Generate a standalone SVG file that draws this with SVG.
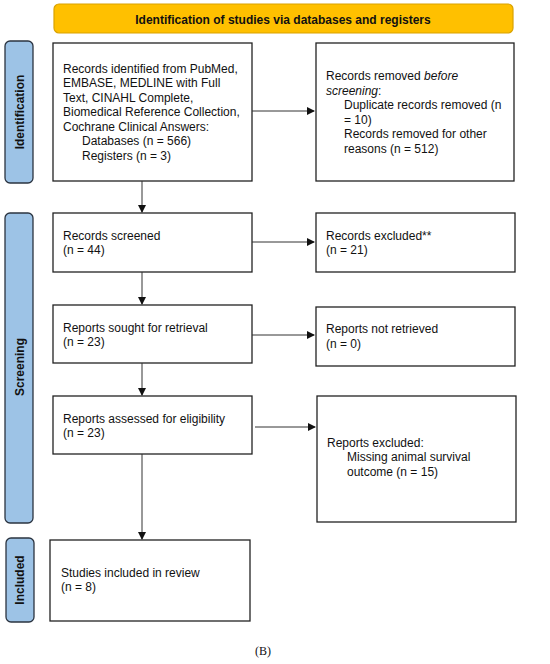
<svg xmlns="http://www.w3.org/2000/svg" width="550" height="664" viewBox="0 0 550 664">
<style>
.box{fill:#fff;stroke:#222;stroke-width:1.3}
.side{fill:#9DC3E6;stroke:#2b3440;stroke-width:1.3}
.hdr{fill:#FFC000;stroke:#D9A200;stroke-width:1.2}
.t{font-family:"Liberation Sans",Arial,sans-serif;font-size:12px;fill:#111}
.b{font-family:"Liberation Sans",Arial,sans-serif;font-size:12px;font-weight:bold;fill:#111}
.ln{stroke:#333;stroke-width:1;fill:none}
</style>
<defs>
<marker id="ah" markerWidth="8" markerHeight="8" refX="7" refY="4" orient="auto" markerUnits="userSpaceOnUse">
<path d="M0,0 L8,4 L0,8 Z" fill="#111"/>
</marker>
</defs>
<rect width="550" height="664" fill="#fff"/>
<g id="header">
<rect class="hdr" x="54" y="4" width="459" height="29" rx="5"/>
<text class="b" x="283" y="23.5" text-anchor="middle">Identification of studies via databases and registers</text>
</g>
<g id="lbl-identification">
<rect class="side" x="5" y="41" width="28" height="142" rx="5"/>
<text class="b" transform="translate(23.5,112) rotate(-90)" text-anchor="middle">Identification</text>
</g>
<g id="lbl-screening">
<rect class="side" x="5" y="213" width="28" height="310" rx="5"/>
<text class="b" transform="translate(23.5,367) rotate(-90)" text-anchor="middle">Screening</text>
</g>
<g id="lbl-included">
<rect class="side" x="6" y="538" width="28" height="84" rx="5"/>
<text class="b" transform="translate(24,580) rotate(-90)" text-anchor="middle">Included</text>
</g>
<g id="identified">
<rect class="box" x="53" y="43" width="199" height="138"/>
<text class="t" x="63" y="72.5">Records identified from PubMed,</text>
<text class="t" x="63" y="87">EMBASE, MEDLINE with Full</text>
<text class="t" x="63" y="101.5">Text, CINAHL Complete,</text>
<text class="t" x="63" y="116">Biomedical Reference Collection,</text>
<text class="t" x="63" y="130.5">Cochrane Clinical Answers:</text>
<text class="t" x="82" y="145">Databases (n = 566)</text>
<text class="t" x="82" y="159.5">Registers (n = 3)</text>
</g>
<g id="removed">
<rect class="box" x="316" y="43" width="198" height="138"/>
<text class="t" x="326" y="80">Records removed <tspan font-style="italic">before</tspan></text>
<text class="t" x="326" y="94.5"><tspan font-style="italic">screening</tspan>:</text>
<text class="t" x="344" y="109">Duplicate records removed (n</text>
<text class="t" x="344" y="123.5">= 10)</text>
<text class="t" x="344" y="138">Records removed for other</text>
<text class="t" x="344" y="152.5">reasons (n = 512)</text>
</g>
<g id="screened">
<rect class="box" x="53" y="213" width="199" height="59"/>
<text class="t" x="63" y="239.5">Records screened</text>
<text class="t" x="63" y="254">(n = 44)</text>
</g>
<g id="excluded1">
<rect class="box" x="316" y="213" width="199" height="59"/>
<text class="t" x="326" y="239.5">Records excluded**</text>
<text class="t" x="326" y="254">(n = 21)</text>
</g>
<g id="sought">
<rect class="box" x="53" y="305" width="199" height="58"/>
<text class="t" x="63" y="331.5">Reports sought for retrieval</text>
<text class="t" x="63" y="346">(n = 23)</text>
</g>
<g id="notretrieved">
<rect class="box" x="316" y="307" width="199" height="59"/>
<text class="t" x="326" y="333">Reports not retrieved</text>
<text class="t" x="326" y="347.5">(n = 0)</text>
</g>
<g id="assessed">
<rect class="box" x="53" y="396" width="199" height="58"/>
<text class="t" x="63" y="422.5">Reports assessed for eligibility</text>
<text class="t" x="63" y="437">(n = 23)</text>
</g>
<g id="excluded2">
<rect class="box" x="317" y="396" width="199" height="126"/>
<text class="t" x="327" y="446.5">Reports excluded:</text>
<text class="t" x="347" y="461">Missing animal survival</text>
<text class="t" x="347" y="475.5">outcome (n = 15)</text>
</g>
<g id="included">
<rect class="box" x="50" y="540" width="200" height="81"/>
<text class="t" x="61" y="576.5">Studies included in review</text>
<text class="t" x="61" y="591">(n = 8)</text>
</g>
<g id="connectors">
<line class="ln" x1="252" y1="111" x2="314" y2="111" marker-end="url(#ah)"/>
<line class="ln" x1="142" y1="181" x2="142" y2="212" marker-end="url(#ah)"/>
<line class="ln" x1="252" y1="242" x2="314" y2="242" marker-end="url(#ah)"/>
<line class="ln" x1="142" y1="272" x2="142" y2="304" marker-end="url(#ah)"/>
<line class="ln" x1="252" y1="335" x2="314" y2="335" marker-end="url(#ah)"/>
<line class="ln" x1="142" y1="363" x2="142" y2="395" marker-end="url(#ah)"/>
<line class="ln" x1="255" y1="427" x2="315" y2="427" marker-end="url(#ah)"/>
<line class="ln" x1="142" y1="454" x2="142" y2="539" marker-end="url(#ah)"/>
</g>
<text x="263" y="655" text-anchor="middle" font-family="'Liberation Serif','Times New Roman',serif" font-size="12px" fill="#111">(B)</text>
</svg>
